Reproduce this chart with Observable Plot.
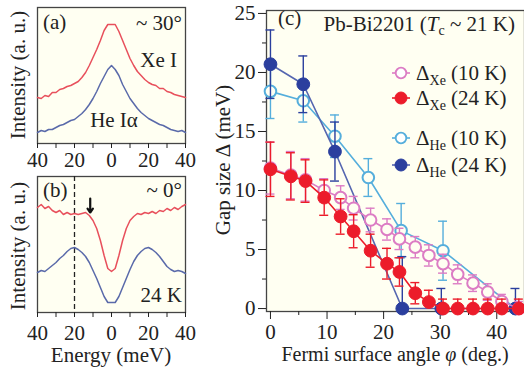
<!DOCTYPE html>
<html><head><meta charset="utf-8">
<script src="https://cdn.jsdelivr.net/npm/d3@7"></script>
<script src="https://cdn.jsdelivr.net/npm/@observablehq/plot@0.6"></script>
<style>
body{margin:0;background:#fff;}
#wrap{position:relative;width:524px;height:368px;overflow:hidden;font-family:"Liberation Serif","LiberationSerif","DejaVu Serif","Noto Serif","Times",serif;color:#222;background:#fff}
#wrap svg{position:absolute;overflow:visible}
#wrap svg text{font-family:"Liberation Serif","LiberationSerif","DejaVu Serif","Noto Serif","Times",serif;}
</style></head><body><div id="wrap"></div>
<script>
// ---------- data ----------
const energy = [-40,-38,-36,-34,-32,-30,-28,-26,-24,-22,-20,-18,-16,-14,-12,-10,-8,-6,-4,-2,0,2,4,6,8,10,12,14,16,18,20,22,24,26,28,30,32,34,36,38,40];
// panel (a) ~30 deg, intensity (a.u.)
const aXe = [46,45,48,47,51,51,54,55,57,58,60,62,66,71,78,86,94,103,113,119,119,119,112,103,94,85,78,72,68,64,61,59,58,55,55,52,51,49,48,47,46];
const aHe = [11,13,12,14,14,16,18,19,21,23,24,27,30,34,39,45,52,60,67,74,78,74,68,59,52,45,40,35,31,28,25,23,21,19,18,16,14,13,12,13,11];
// panel (b) ~0 deg, 24 K
const bXe = [105,108,104,106,102,100,102,98,100,98,99,98,99,100,97,92,84,72,57,44,41,44,57,72,84,92,96,99,98,100,99,101,99,102,101,104,102,105,103,106,108];
const bHe = [40,42,41,44,47,50,54,57,61,64,65,63,60,56,50,42,34,25,16,10,10,10,16,25,34,43,51,57,61,64,65,63,60,56,51,46,43,41,42,41,39];
const energyTicks = [-40,-30,-20,-10,0,10,20,30,40];
const dashEnergy = [-20];
const arrowMark = [{e:-11.5, from:114, to:100}];

// panel (c) gap size vs Fermi surface angle
const phiXe = [0,3.6,6.2,9.5,12.4,14.7,17.7,20.6,22.8,25.6,28,30.5,33.1,35.8,38.4,40.9,43.9];
const gapXe10 = [11.9,11.3,10.9,10.0,9.4,8.5,7.5,6.7,5.9,5.2,4.5,3.8,2.9,2.15,1.4,0.6,0];
const errXe10 = [2.2,2.0,1.8,1.0,1.0,1.0,1.0,0.9,0.9,0.9,0.9,0.8,0.8,0.7,0.7,0.6,0.6];
const gapXe24 = [11.8,11.2,10.8,9.4,7.8,6.55,4.9,3.8,3.1,1.3,0.55,0,0,0,0,0,0];
const errXe24 = [2.3,2.0,1.8,1.5,1.5,1.4,1.4,1.3,1.2,0.9,1.0,0.8,0.8,0.8,0.8,0.8,0.8];
const phiHe10 = [0,5.8,11.4,17.3,23.1,30.5,43.3];
const gapHe10 = [18.4,17.6,14.6,11.1,6.6,4.9,0];
const errHe10 = [2.3,1.8,1.8,1.6,2.3,2.5,0];
const phiHe24 = [0,5.8,11.4,23.3,30.2,43.3];
const gapHe24 = [20.7,19.0,13.3,0,0,0];
const errHe24 = [2.9,2.4,2.5,4.4,1.7,1.7];
const yTicksMajor = [0,5,10,15,20,25];
const yTicksMinor = [2.5,7.5,12.5,17.5,22.5];
const xTicksMajor = [0,10,20,30,40];
const xTicksMinor = [5,15,25,35];
const legendLabels = [["Xe","(10 K)"],["Xe","(24 K)"],["He","(10 K)"],["He","(24 K)"]];

// ---------- styles ----------
const BG = "#fffff2";
const FONT = "'Liberation Serif', 'DejaVu Serif', 'Noto Serif', Times, serif";
const C = {xe10:"#dc7cc4", xe24:"#ec1c2a", he10:"#55aedc", he24:"#2b3f9e", he24line:"#5566b0",
           aRed:"#e8505c", aBlue:"#5a6aaa"};
const wrap = document.getElementById("wrap");
const baseStyle = {fontFamily: FONT, fontSize: "21px", background: "transparent", color: "#222", overflow: "visible"};

function place(svg, left, top){ svg.style.left = left + "px"; svg.style.top = top + "px"; wrap.appendChild(svg); }

// ---------- panel (a) ----------
const pa = Plot.plot({
  width: 200, height: 176, marginLeft: 37, marginRight: 15, marginTop: 7, marginBottom: 33,
  style: baseStyle,
  x: {domain: [-40, 40], axis: null}, y: {domain: [0, 136], axis: null},
  marks: [
    Plot.frame({fill: BG, stroke: "#444", strokeWidth: 1.3}),
    Plot.line(energy, {x: d => d, y: (d, i) => aXe[i], stroke: C.aRed, strokeWidth: 1.5}),
    Plot.line(energy, {x: d => d, y: (d, i) => aHe[i], stroke: C.aBlue, strokeWidth: 1.5}),
    Plot.axisX({ticks: energyTicks, tickSize: 5, tickPadding: 4, label: null,
      tickFormat: d => d % 20 === 0 ? String(Math.abs(d)) : ""})
  ]
});
place(pa, 0, 0);

// ---------- panel (b) ----------
const pb = Plot.plot({
  width: 200, height: 200, marginLeft: 37, marginRight: 15, marginTop: 8, marginBottom: 56,
  style: baseStyle,
  x: {domain: [-40, 40], axis: null}, y: {domain: [0, 136], axis: null},
  marks: [
    Plot.frame({fill: BG, stroke: "#444", strokeWidth: 1.3}),
    Plot.ruleX(dashEnergy, {stroke: "#222", strokeWidth: 1.3, strokeDasharray: "5,3"}),
    Plot.line(energy, {x: d => d, y: (d, i) => bXe[i], stroke: C.aRed, strokeWidth: 1.5}),
    Plot.line(energy, {x: d => d, y: (d, i) => bHe[i], stroke: C.aBlue, strokeWidth: 1.5}),
    Plot.arrow(arrowMark, {x1: "e", x2: "e", y1: "from", y2: "to", stroke: "#111", strokeWidth: 2.2, headLength: 7, headAngle: 70}),
    Plot.axisX({ticks: energyTicks, tickSize: 5, tickPadding: 8, label: null,
      tickFormat: d => d % 20 === 0 ? String(Math.abs(d)) : ""})
  ]
});
place(pb, 0, 168);

// ---------- panel (c) ----------
function series(phi, gap, err, color, lineColor, open){
  const data = phi.map((p, i) => ({p, g: gap[i], e: err[i]}));
  return [
    Plot.line(data, {x: "p", y: "g", stroke: lineColor, strokeWidth: 1.6}),
    Plot.ruleX(data.filter(d => d.e > 0), {x: "p", y1: d => Math.max(0, d.g - d.e), y2: d => d.g + d.e, stroke: color, strokeWidth: 1.4}),
    Plot.ruleY(data.filter(d => d.e > 0), {y: d => d.g + d.e, x1: "p", x2: "p", insetLeft: -4.5, insetRight: -4.5, stroke: color, strokeWidth: 1.4}),
    Plot.ruleY(data.filter(d => d.e > 0 && d.g - d.e > 0), {y: d => d.g - d.e, x1: "p", x2: "p", insetLeft: -4.5, insetRight: -4.5, stroke: color, strokeWidth: 1.4}),
    Plot.dot(data, {x: "p", y: "g", r: open ? 5.8 : 6.4, fill: open ? BG : color, stroke: color, strokeWidth: open ? 2 : 1})
  ];
}
const pc = Plot.plot({
  width: 324, height: 368, marginLeft: 66, marginRight: 0, marginTop: 10, marginBottom: 57,
  style: baseStyle,
  x: {domain: [-0.7, 44.9], axis: null}, y: {domain: [-0.25, 25.25], axis: null},
  marks: [
    Plot.frame({fill: BG, stroke: "#444", strokeWidth: 1.3}),
    Plot.axisY({ticks: yTicksMajor, tickSize: 8, tickPadding: 3, label: null}),
    Plot.axisY({ticks: yTicksMinor, tickSize: 4, tickFormat: () => "", label: null}),
    Plot.axisX({ticks: xTicksMajor, tickSize: 8, tickPadding: 5, label: null}),
    Plot.axisX({ticks: xTicksMinor, tickSize: 4, tickFormat: () => "", label: null}),
    ...series(phiHe10, gapHe10, errHe10, C.he10, C.he10, true),
    ...series(phiHe24, gapHe24, errHe24, C.he24, C.he24line, false),
    ...series(phiXe, gapXe10, errXe10, C.xe10, C.xe10, true),
    ...series(phiXe, gapXe24, errXe24, C.xe24, C.xe24, false)
  ]
});
place(pc, 200, 0);

// ---------- text overlay: panel labels, axis titles, legend ----------
const ov = d3.create("svg").attr("width", 524).attr("height", 368)
  .style("left", "0px").style("top", "0px")
  .attr("font-family", FONT).attr("font-size", 21).attr("fill", "#222");
function txt(x, y, s, anchor){ return ov.append("text").attr("x", x).attr("y", y).attr("text-anchor", anchor || "start").text(s); }
// panel (a)
txt(43, 29, "(a)");
txt(182, 30, "~ 30°", "end");
txt(177, 67, "Xe I", "end");
txt(114, 127, "He Iα", "middle");
// panel (b)
txt(43, 197, "(b)");
txt(182, 197, "~ 0°", "end");
txt(182, 302, "24 K", "end");
txt(111, 362, "Energy (meV)", "middle");
// y titles
[[18, 75], [18, 246]].forEach(([x, y]) => {
  ov.append("text").attr("transform", `translate(${x},${y}) rotate(-90)`).attr("text-anchor", "middle")
    .attr("dominant-baseline", "central").text("Intensity (a. u.)");
});
ov.append("text").attr("transform", "translate(223,160) rotate(-90)").attr("text-anchor", "middle")
  .attr("dominant-baseline", "central").text("Gap size Δ (meV)");
// x title panel c
const xt = ov.append("text").attr("x", 395).attr("y", 361).attr("text-anchor", "middle").attr("font-size", 20);
xt.append("tspan").text("Fermi surface angle ");
xt.append("tspan").attr("font-style", "italic").text("φ");
xt.append("tspan").text(" (deg.)");
// panel (c) label and title
txt(278, 25, "(c)");
const tt = ov.append("text").attr("x", 515).attr("y", 31).attr("text-anchor", "end");
tt.append("tspan").text("Pb-Bi2201 (");
tt.append("tspan").attr("font-style", "italic").text("T");
tt.append("tspan").attr("font-size", 14).attr("dy", 4).text("c");
tt.append("tspan").attr("dy", -4).text(" ~ 21 K)");
// legend
const legColors = [C.xe10, C.xe24, C.he10, C.he24];
const legOpen = [true, false, true, false];
const legY = [73, 98, 138, 165];
legendLabels.forEach(([sub, temp], i) => {
  const y = legY[i];
  ov.append("line").attr("x1", 392).attr("x2", 410).attr("y1", y).attr("y2", y)
    .attr("stroke", i === 3 ? C.he24line : legColors[i]).attr("stroke-width", 1.6);
  ov.append("circle").attr("cx", 401).attr("cy", y).attr("r", legOpen[i] ? 5.3 : 6)
    .attr("fill", legOpen[i] ? "#fff" : legColors[i]).attr("stroke", legColors[i]).attr("stroke-width", legOpen[i] ? 1.8 : 1);
  const t = ov.append("text").attr("x", 416).attr("y", y + 7);
  t.append("tspan").text("Δ");
  t.append("tspan").attr("font-size", 14).attr("dy", 5).text(sub);
  t.append("tspan").attr("dy", -5).text(" " + temp);
});
wrap.appendChild(ov.node());
</script>
</body></html>
